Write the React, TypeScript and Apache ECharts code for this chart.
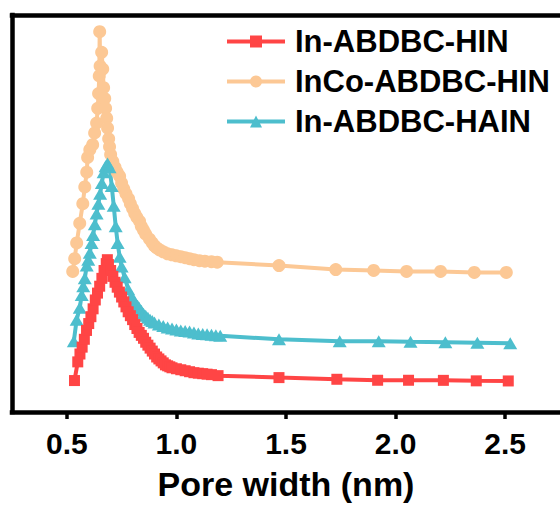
import React, { useEffect, useRef } from "react";
import * as echarts from "echarts";

// Pore width (nm) and pore-size distribution (arbitrary units)
const redX = [0.535, 0.55, 0.56, 0.57, 0.58, 0.59, 0.6, 0.61, 0.62, 0.63, 0.64, 0.65, 0.66, 0.67, 0.68, 0.685,
  0.69, 0.7, 0.71, 0.72, 0.73, 0.74, 0.75, 0.76, 0.77, 0.78, 0.79, 0.8, 0.81, 0.82, 0.83, 0.84, 0.85, 0.86, 0.87,
  0.88, 0.89, 0.9, 0.91, 0.92, 0.93, 0.94, 0.95, 0.96, 0.97, 0.98, 1.0, 1.02, 1.04, 1.06, 1.08, 1.1, 1.12, 1.14,
  1.16, 1.19, 1.468, 1.732, 1.918, 2.059, 2.218, 2.368, 2.514];
const redY = [0.32, 0.51, 0.59, 0.66, 0.74, 0.83, 0.9, 0.97, 1.05, 1.14, 1.21, 1.28, 1.36, 1.44, 1.51, 1.55,
  1.5, 1.44, 1.38, 1.32, 1.27, 1.22, 1.17, 1.12, 1.07, 1.02, 0.98, 0.94, 0.89, 0.85, 0.81, 0.78, 0.75, 0.71, 0.68,
  0.65, 0.62, 0.59, 0.56, 0.54, 0.52, 0.5, 0.48, 0.47, 0.46, 0.45, 0.44, 0.43, 0.42, 0.41, 0.4, 0.395, 0.39, 0.385,
  0.38, 0.37, 0.35, 0.333, 0.323, 0.323, 0.322, 0.317, 0.316];

const orangeX = [0.527, 0.536, 0.545, 0.559, 0.573, 0.582, 0.591, 0.595, 0.605, 0.618, 0.627, 0.636, 0.641, 0.645,
  0.648, 0.65, 0.652, 0.659, 0.664, 0.668, 0.673, 0.677, 0.682, 0.686, 0.691, 0.695, 0.7, 0.71, 0.72, 0.73, 0.741,
  0.75, 0.76, 0.77, 0.782, 0.79, 0.8, 0.81, 0.82, 0.832, 0.84, 0.85, 0.86, 0.877, 0.89, 0.9, 0.91, 0.923, 0.94,
  0.96, 0.98, 1.0, 1.02, 1.04, 1.06, 1.08, 1.105, 1.13, 1.16, 1.186, 1.468, 1.727, 1.9, 2.05, 2.205, 2.359, 2.505];
const orangeY = [1.43, 1.56, 1.72, 1.92, 2.12, 2.29, 2.44, 2.59, 2.67, 2.72, 2.84, 2.94, 3.09, 3.24,
  3.42, 3.87, 3.52, 3.66, 3.49, 3.3, 3.19, 3.09, 2.99, 2.89, 2.78, 2.7, 2.62, 2.55, 2.49, 2.44, 2.4,
  2.33, 2.27, 2.22, 2.17, 2.12, 2.07, 2.02, 1.98, 1.94, 1.89, 1.85, 1.81, 1.76, 1.72, 1.69, 1.67, 1.65, 1.63,
  1.61, 1.6, 1.59, 1.58, 1.57, 1.56, 1.55, 1.54, 1.535, 1.53, 1.525, 1.49, 1.45, 1.44, 1.43, 1.43, 1.42, 1.42];

const tealX = [0.532, 0.545, 0.559, 0.568, 0.575, 0.582, 0.591, 0.598, 0.605, 0.613, 0.62, 0.628, 0.636, 0.644,
  0.652, 0.66, 0.668, 0.677, 0.686, 0.695, 0.705, 0.714, 0.723, 0.732, 0.741, 0.75, 0.764, 0.78, 0.795, 0.81,
  0.823, 0.83, 0.84, 0.85, 0.86, 0.87, 0.88, 0.89, 0.9, 0.92, 0.94, 0.96, 0.98, 1.0, 1.02, 1.04, 1.06, 1.08, 1.1,
  1.12, 1.14, 1.16, 1.18, 1.2, 1.468, 1.745, 1.923, 2.068, 2.227, 2.373, 2.523];
const tealY = [0.72, 0.94, 1.06, 1.19, 1.28, 1.36, 1.49, 1.55, 1.62, 1.72, 1.8, 1.91, 2.02, 2.12,
  2.22, 2.33, 2.44, 2.5, 2.53, 2.49, 2.3, 2.1, 1.89, 1.72, 1.58, 1.48, 1.37, 1.25, 1.18, 1.12,
  1.08, 1.06, 1.03, 1.0, 0.98, 0.96, 0.94, 0.925, 0.91, 0.89, 0.875, 0.86, 0.85, 0.84, 0.83, 0.825, 0.82, 0.81, 0.8,
  0.795, 0.79, 0.785, 0.78, 0.775, 0.74, 0.72, 0.72, 0.715, 0.71, 0.705, 0.7];

const seriesNames = ["In-ABDBC-HIN", "InCo-ABDBC-HIN", "In-ABDBC-HAIN"];
const tickValues = [0.5, 1.0, 1.5, 2.0, 2.5];
const xTitle = "Pore width (nm)";

const FONT = "'Liberation Sans', Arial, sans-serif";

function pairs(xs: number[], ys: number[]) {
  return xs.map((x, i) => [x, ys[i]]);
}

export default function App() {
  const ref = useRef<HTMLDivElement>(null);
  useEffect(() => {
    document.body.style.margin = "0";
    const chart = echarts.init(ref.current!, null, { renderer: "svg" });
    const axisLineStyle = { color: "#000", width: 4.5, cap: "square" as const };
    chart.setOption({
      animation: false,
      backgroundColor: "#fff",
      grid: { left: 12, top: 15, width: 551, height: 404, show: false },
      legend: {
        orient: "vertical",
        left: 225,
        top: 26,
        padding: 0,
        itemWidth: 58,
        itemHeight: 15,
        itemGap: 9,
        lineStyle: { width: 4 },
        data: [seriesNames[0], seriesNames[1], seriesNames[2]],
        textStyle: {
          fontFamily: FONT,
          fontWeight: "bold",
          fontSize: 31,
          lineHeight: 30,
          color: "#000",
          padding: [0, 0, 0, 5],
        },
      },
      xAxis: [
        {
          type: "value",
          min: 0.25,
          max: 2.75,
          position: "bottom",
          axisLine: { show: true, lineStyle: axisLineStyle },
          axisTick: {
            show: true,
            inside: false,
            length: 7,
            customValues: tickValues,
            lineStyle: { color: "#000", width: 3.5 },
          },
          axisLabel: {
            customValues: tickValues,
            margin: 16,
            fontFamily: FONT,
            fontWeight: "bold",
            fontSize: 30,
            color: "#000",
            formatter: (v: number) => v.toFixed(1),
          },
          splitLine: { show: false },
          name: xTitle,
          nameLocation: "middle",
          nameGap: 55,
          nameTextStyle: { fontFamily: FONT, fontWeight: "bold", fontSize: 34, color: "#000" },
        },
        {
          type: "value",
          min: 0.25,
          max: 2.75,
          position: "top",
          axisLine: { show: true, lineStyle: axisLineStyle },
          axisTick: { show: false },
          axisLabel: { show: false },
          splitLine: { show: false },
        },
      ],
      yAxis: {
        type: "value",
        min: 0,
        max: 4.04,
        axisLine: { show: true, lineStyle: axisLineStyle },
        axisTick: { show: false },
        axisLabel: { show: false },
        splitLine: { show: false },
      },
      series: [
        {
          name: seriesNames[1],
          type: "line",
          data: pairs(orangeX, orangeY),
          symbol: "circle",
          symbolSize: 13,
          itemStyle: { color: "#FCC895" },
          lineStyle: { color: "#FCC895", width: 4 },
        },
        {
          name: seriesNames[2],
          type: "line",
          data: pairs(tealX, tealY),
          symbol: "triangle",
          symbolSize: [14, 12],
          itemStyle: { color: "#4DBECD" },
          lineStyle: { color: "#4DBECD", width: 4 },
        },
        {
          name: seriesNames[0],
          type: "line",
          data: pairs(redX, redY),
          symbol: "rect",
          symbolSize: 11,
          itemStyle: { color: "#FF4545" },
          lineStyle: { color: "#FF4545", width: 4 },
        },
      ],
    });
    return () => chart.dispose();
  }, []);
  return (
    <div
      ref={ref}
      style={{ position: "absolute", left: 0, top: 0, width: 560, height: 506 }}
    />
  );
}
